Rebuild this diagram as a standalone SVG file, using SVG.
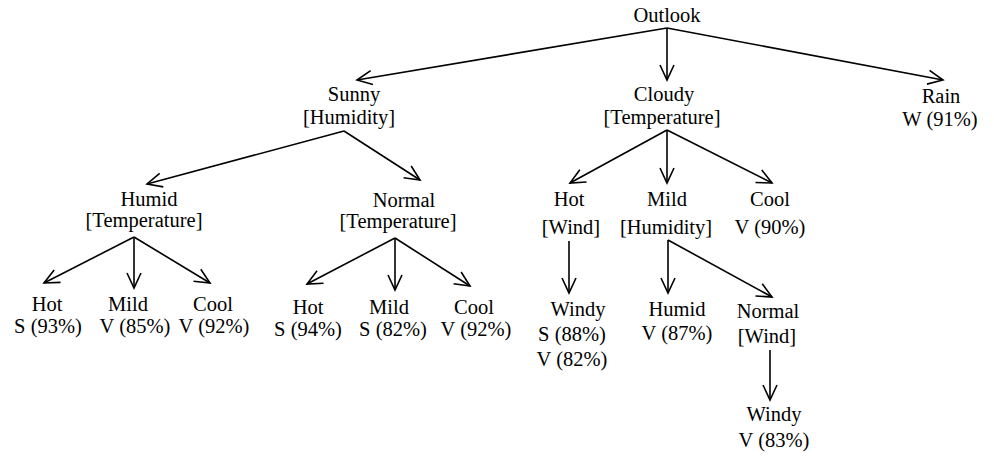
<svg xmlns="http://www.w3.org/2000/svg" width="994" height="456" viewBox="0 0 994 456" font-family="Liberation Serif, Tinos, Times New Roman, DejaVu Serif, serif">
<style>
text{font-family:'Liberation Serif','Tinos','Times New Roman','DejaVu Serif',serif;font-size:20.5px;fill:#000;text-anchor:middle}
.c line{stroke:#000;stroke-width:1.6;marker-end:url(#ah)}
</style>
<defs>
<marker id="ah" markerUnits="userSpaceOnUse" markerWidth="30" markerHeight="30" refX="0" refY="0" viewBox="-20 -15 30 30" orient="auto">
<path d="M-15,-7 L0,0 L-15,7" fill="none" stroke="#000" stroke-width="1.6"/>
</marker>
</defs>
<rect width="994" height="456" fill="#fff"/>
<g id="connectors" class="c">
<line x1="667" y1="28" x2="357" y2="80"/>
<line x1="667" y1="28" x2="667" y2="80"/>
<line x1="667" y1="28" x2="943" y2="80"/>
<line x1="344" y1="131" x2="147" y2="184"/>
<line x1="344" y1="131" x2="420" y2="180"/>
<line x1="667" y1="130" x2="570" y2="183"/>
<line x1="667" y1="130" x2="667" y2="183"/>
<line x1="667" y1="130" x2="772" y2="183"/>
<line x1="134" y1="237" x2="44" y2="283"/>
<line x1="134" y1="237" x2="134" y2="288"/>
<line x1="134" y1="237" x2="210" y2="283"/>
<line x1="395" y1="238" x2="307" y2="284"/>
<line x1="395" y1="238" x2="395" y2="290"/>
<line x1="395" y1="238" x2="470" y2="286"/>
<line x1="569" y1="241" x2="569" y2="293"/>
<line x1="668" y1="240" x2="668" y2="293"/>
<line x1="668" y1="240" x2="772" y2="297"/>
<line x1="770" y1="350" x2="770" y2="400"/>
</g>
<g id="outlook"><text x="667" y="22">Outlook</text></g>
<g id="sunny"><text x="354" y="101">Sunny</text><text x="349" y="124">[Humidity]</text></g>
<g id="cloudy"><text x="664" y="101">Cloudy</text><text x="662" y="124">[Temperature]</text></g>
<g id="rain"><text x="941" y="103">Rain</text><text x="940" y="126">W (91%)</text></g>
<g id="sunny-humid"><text x="149" y="206">Humid</text><text x="144" y="227">[Temperature]</text></g>
<g id="sunny-normal"><text x="404" y="207">Normal</text><text x="398" y="228">[Temperature]</text></g>
<g id="sh-hot"><text x="47" y="311">Hot</text><text x="48" y="333">S (93%)</text></g>
<g id="sh-mild"><text x="128" y="311">Mild</text><text x="135" y="333">V (85%)</text></g>
<g id="sh-cool"><text x="213" y="311">Cool</text><text x="214" y="333">V (92%)</text></g>
<g id="sn-hot"><text x="308" y="314">Hot</text><text x="308" y="336">S (94%)</text></g>
<g id="sn-mild"><text x="389" y="314">Mild</text><text x="393" y="336">S (82%)</text></g>
<g id="sn-cool"><text x="474" y="314">Cool</text><text x="476" y="336">V (92%)</text></g>
<g id="c-hot"><text x="569" y="206">Hot</text><text x="571" y="234">[Wind]</text></g>
<g id="c-mild"><text x="667" y="206">Mild</text><text x="666" y="234">[Humidity]</text></g>
<g id="c-cool"><text x="770" y="206">Cool</text><text x="770" y="234">V (90%)</text></g>
<g id="ch-windy"><text x="578" y="316">Windy</text><text x="572" y="341">S (88%)</text><text x="572" y="366">V (82%)</text></g>
<g id="cm-humid"><text x="677" y="316">Humid</text><text x="677" y="340">V (87%)</text></g>
<g id="cm-normal"><text x="768" y="318">Normal</text><text x="767" y="343">[Wind]</text></g>
<g id="cmn-windy"><text x="774" y="421">Windy</text><text x="774" y="447">V (83%)</text></g>
</svg>
